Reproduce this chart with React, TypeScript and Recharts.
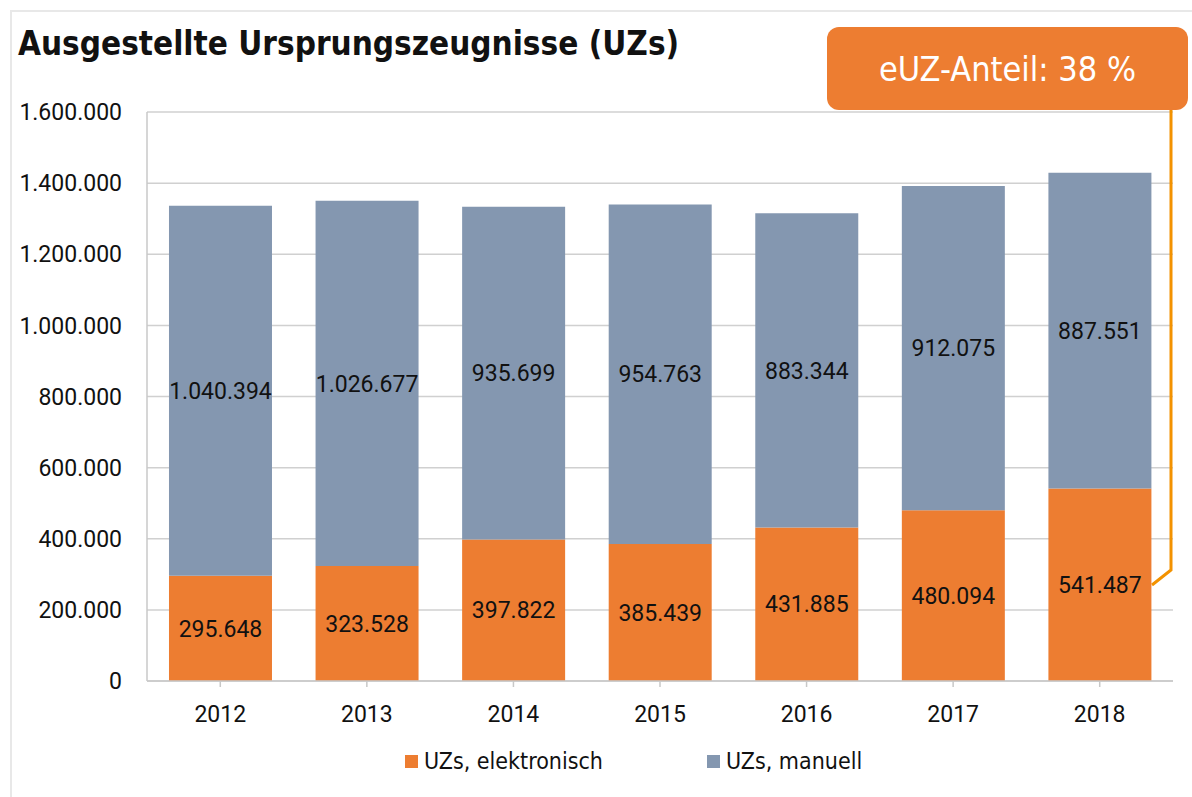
import React from "react";
import { BarChart, Bar, XAxis, YAxis, CartesianGrid, LabelList } from "recharts";

const years = ["2012", "2013", "2014", "2015", "2016", "2017", "2018"];
const elektronisch = [295648, 323528, 397822, 385439, 431885, 480094, 541487];
const manuell = [1040394, 1026677, 935699, 954763, 883344, 912075, 887551];
const yTicks = [0, 200000, 400000, 600000, 800000, 1000000, 1200000, 1400000, 1600000];

const ORANGE = "#ED7D31";
const GREY = "#8497B0";
const COND = "'DejaVu Sans Condensed', 'DejaVu Sans', sans-serif";
const NUMF = "Roboto, 'Liberation Sans', Arial, sans-serif";

const fmt = (v: number) => {
  const s = String(Math.round(v));
  return s.replace(/\B(?=(\d{3})+(?!\d))/g, ".");
};

const data = years.map((y, i) => ({ year: y, el: elektronisch[i], ma: manuell[i] }));

export default function App() {
  return (
    <div style={{ position: "absolute", left: 0, top: 0, width: 1192, height: 797, background: "#fff", overflow: "hidden" }}>
      <div style={{ position: "absolute", left: 10, top: 10, width: 1200, height: 800, borderTop: "2px solid #e8e8e8", borderLeft: "2px solid #e8e8e8" }} />
      <div style={{ position: "absolute", left: 18, top: 24, fontFamily: COND, fontWeight: 700, fontSize: 33, color: "#111", whiteSpace: "nowrap" }}>
        Ausgestellte Ursprungszeugnisse (UZs)
      </div>
      <BarChart
        width={1192}
        height={797}
        data={data}
        margin={{ top: 112, right: 19, left: 0, bottom: 86 }}
        barCategoryGap="15%"
        style={{ position: "absolute", left: 0, top: 0 }}
      >
        <CartesianGrid vertical={false} stroke="#d0d0d0" strokeWidth={1.5} />
        <XAxis
          dataKey="year"
          height={30}
          axisLine={{ stroke: "#c8c8c8", strokeWidth: 1.5 }}
          tickLine={{ stroke: "#c8c8c8", strokeWidth: 1.5 }}
          tickSize={6}
          tickMargin={19}
          tick={{ fill: "#111", fontSize: 23, fontFamily: NUMF }}
        />
        <YAxis
          width={147}
          domain={[0, 1600000]}
          ticks={yTicks}
          tickFormatter={fmt}
          axisLine={{ stroke: "#c8c8c8", strokeWidth: 1.5 }}
          tickLine={false}
          tickSize={0}
          tickMargin={25}
          tick={{ fill: "#111", fontSize: 23, fontFamily: NUMF }}
          interval={0}
        />
        <Bar dataKey="el" stackId="a" fill={ORANGE} isAnimationActive={false} name="UZs, elektronisch">
          <LabelList dataKey="el" position="center" formatter={(v: any) => fmt(Number(v))} fill="#111" fontSize={23} fontFamily={NUMF} />
        </Bar>
        <Bar dataKey="ma" stackId="a" fill={GREY} isAnimationActive={false} name="UZs, manuell">
          <LabelList dataKey="ma" position="center" formatter={(v: any) => fmt(Number(v))} fill="#111" fontSize={23} fontFamily={NUMF} />
        </Bar>
      </BarChart>
      <div style={{ position: "absolute", left: 405, top: 748, fontFamily: COND, fontSize: 23, color: "#111", display: "flex", alignItems: "center", whiteSpace: "nowrap" }}>
        <span style={{ width: 13, height: 13, background: ORANGE, display: "inline-block", marginRight: 6 }} />
        UZs, elektronisch
      </div>
      <div style={{ position: "absolute", left: 707, top: 748, fontFamily: COND, fontSize: 23, color: "#111", display: "flex", alignItems: "center", whiteSpace: "nowrap" }}>
        <span style={{ width: 13, height: 13, background: GREY, display: "inline-block", marginRight: 6 }} />
        UZs, manuell
      </div>
      <svg width={1192} height={797} style={{ position: "absolute", left: 0, top: 0, pointerEvents: "none" }}>
        <polyline points="1171,100 1171,570 1152,585" fill="none" stroke="#F39200" strokeWidth={3} />
      </svg>
      <div
        style={{
          position: "absolute",
          left: 827,
          top: 27,
          width: 361,
          height: 83,
          background: ORANGE,
          borderRadius: 12,
          color: "#fff",
          fontFamily: COND,
          fontSize: 34,
          display: "flex",
          alignItems: "center",
          justifyContent: "center",
        }}
      >
        eUZ-Anteil: 38 %
      </div>
    </div>
  );
}
